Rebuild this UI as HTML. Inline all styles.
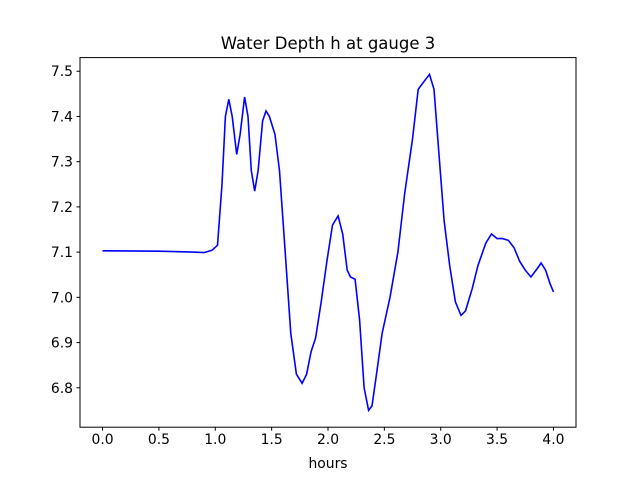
<!DOCTYPE html>
<html><head><meta charset="utf-8"><style>
body{margin:0;background:#fff;}
svg{display:block;font-family:"DejaVu Sans","Liberation Sans",sans-serif;}
</style></head><body>
<svg id="chart" width="640" height="480">
<text x="328" y="49" text-anchor="middle" font-size="16.5">Water Depth h at gauge 3</text>
<g id="xticks"></g>
<g id="yticks"></g>
<polyline id="line" fill="none" stroke="#0000ff" stroke-width="1.6"/>
<rect x="80" y="57.6" width="496" height="369.6" fill="none" stroke="#000" stroke-width="1"/>
<text x="328" y="468" text-anchor="middle" font-size="13.9">hours</text>
</svg>
<script>
const hours=[0,0.5,0.8,0.9,0.97,1.02,1.06,1.09,1.12,1.15,1.19,1.22,1.26,1.29,1.32,1.35,1.38,1.42,1.45,1.48,1.53,1.57,1.62,1.67,1.72,1.77,1.81,1.85,1.89,1.94,1.99,2.04,2.09,2.13,2.17,2.2,2.24,2.28,2.32,2.36,2.39,2.43,2.48,2.55,2.62,2.68,2.75,2.8,2.86,2.9,2.94,2.98,3.03,3.08,3.13,3.18,3.22,3.28,3.33,3.4,3.45,3.5,3.55,3.6,3.65,3.7,3.75,3.8,3.86,3.89,3.93,3.97,4.0];
const depth=[7.103,7.102,7.100,7.099,7.104,7.115,7.25,7.40,7.438,7.40,7.316,7.36,7.443,7.40,7.28,7.235,7.28,7.39,7.412,7.40,7.36,7.28,7.10,6.92,6.83,6.81,6.83,6.88,6.91,6.99,7.08,7.16,7.18,7.14,7.06,7.045,7.04,6.95,6.80,6.75,6.76,6.83,6.92,7.00,7.10,7.23,7.35,7.46,7.48,7.493,7.46,7.33,7.17,7.07,6.99,6.96,6.97,7.02,7.07,7.12,7.14,7.13,7.13,7.126,7.11,7.08,7.06,7.045,7.065,7.076,7.06,7.03,7.012];
const xTickLabels=["0.0","0.5","1.0","1.5","2.0","2.5","3.0","3.5","4.0"];
const yTickLabels=["6.8","6.9","7.0","7.1","7.2","7.3","7.4","7.5"];
const L=80,R=576,T=57.6,B=427.2;
const xmin=-0.2,xmax=4.2;
const dmin=Math.min(...depth),dmax=Math.max(...depth),m=(dmax-dmin)*0.05;
const ymin=dmin-m,ymax=dmax+m;
const sx=v=>L+(v-xmin)/(xmax-xmin)*(R-L);
const sy=v=>B-(v-ymin)/(ymax-ymin)*(B-T);
const NS="http://www.w3.org/2000/svg";
const xg=document.getElementById('xticks'),yg=document.getElementById('yticks');
function mk(tag,attrs,parent){const e=document.createElementNS(NS,tag);for(const k in attrs)e.setAttribute(k,attrs[k]);parent.appendChild(e);return e;}
xTickLabels.forEach(t=>{const x=sx(parseFloat(t));
 const l=mk('line',{x1:x,x2:x,y1:B,y2:B+3.5,stroke:'#000'},xg);
 
 
 const tx=mk('text',{x:x,y:B+17,'text-anchor':'middle','font-size':'13.9'},xg);tx.textContent=t;
 
 });
yTickLabels.forEach(t=>{const y=sy(parseFloat(t));
 const l=mk('line',{x1:L-3.5,x2:L,y1:y,y2:y,stroke:'#000'},yg);
 
 
 const tx=mk('text',{x:L-7,y:y+5,'text-anchor':'end','font-size':'13.9'},yg);tx.textContent=t;
 
 });
document.getElementById('line').setAttribute('points',hours.map((h,i)=>sx(h).toFixed(1)+','+sy(depth[i]).toFixed(1)).join(' '));
</script>
</body></html>
